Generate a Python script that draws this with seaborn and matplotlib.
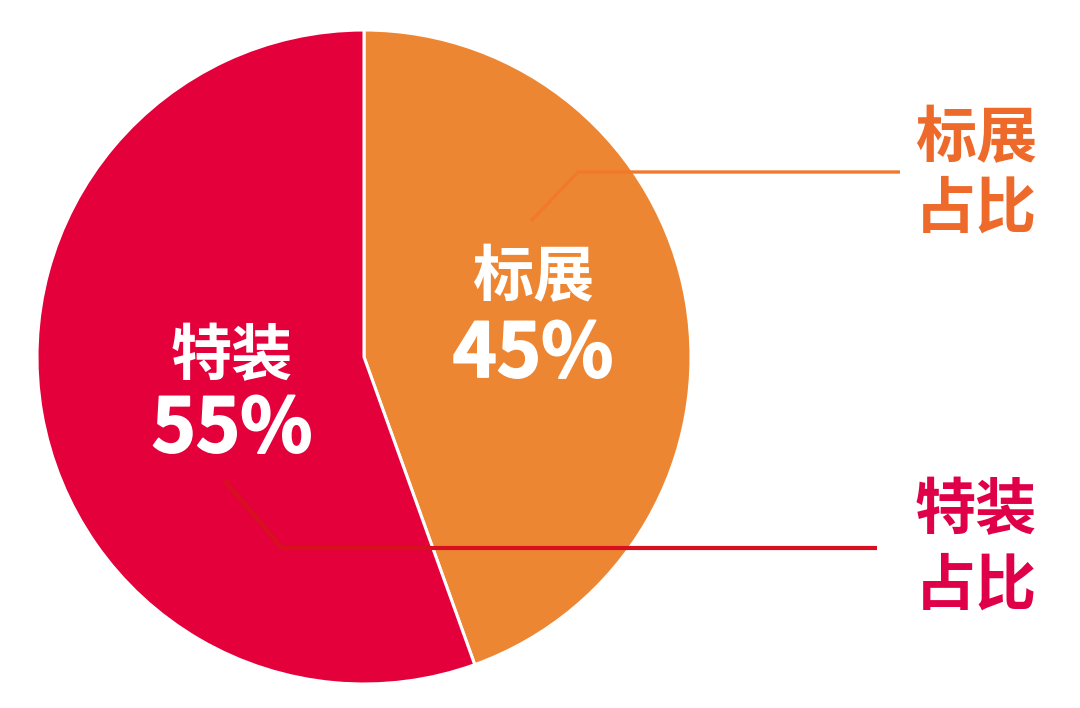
# -*- coding:utf-8 -*-

import matplotlib
matplotlib.use("Agg")
import matplotlib.pyplot as plt
import matplotlib.patheffects as pe
import seaborn as sns

# Datos
categories = ["标展", "特装"]
shares = [44.5, 55.5]          # tamaño medido de las cuñas
pct_labels = ["45%", "55%"]    # texto mostrado
colors = ["#ED8633", "#E4003A"]
label_colors = ["#EE6A2B", "#E0004A"]
line_colors = ["#F07A2A", "#D7101F"]

sns.set_theme(style="white")
plt.rcParams["font.family"] = ["Noto Sans CJK SC", "DejaVu Sans"]

W, H = 1080, 708
fig = plt.figure(figsize=(W / 100, H / 100), dpi=100)
ax = fig.add_axes([0, 0, 1, 1])

cx, cy, r = 364, H - 357, 327
ax.pie(shares, colors=colors, startangle=90, counterclock=False,
       center=(cx, cy), radius=r, frame=True,
       wedgeprops=dict(edgecolor="white", linewidth=2.2))
ax.set_xlim(0, W)
ax.set_ylim(0, H)
ax.set_aspect("equal")
ax.axis("off")

# Etiquetas internas
heavy = [pe.withStroke(linewidth=1.3, foreground="white")]
inner_pos = [(533, 278, 355), (232, 357, 430)]
for name, pct, (x, y1, y2) in zip(categories, pct_labels, inner_pos):
    ax.text(x, H - y1, name, color="white", fontsize=44, fontweight="bold",
            ha="center", va="center")
    ax.text(x, H - y2, pct, color="white", fontsize=54, fontweight="bold",
            ha="center", va="center", path_effects=heavy)

# Líneas guía
leaders = [
    [(531, 221), (578, 172), (900, 172)],
    [(225, 481), (282, 548), (877, 548)],
]
for pts, lc, lw in zip(leaders, line_colors, [2.4, 3.0]):
    xs = [p[0] for p in pts]
    ys = [H - p[1] for p in pts]
    ax.plot(xs, ys, color=lc, linewidth=lw, solid_capstyle="butt", zorder=5)

# Etiquetas externas
outer_pos = [(976, 139, 210), (976, 511, 587)]
for name, lc, (x, y1, y2) in zip(categories, label_colors, outer_pos):
    ax.text(x, H - y1, name, color=lc, fontsize=44, fontweight="bold",
            ha="center", va="center")
    ax.text(x, H - y2, "占比", color=lc, fontsize=44, fontweight="bold",
            ha="center", va="center")

fig.savefig("out.png", dpi=100, facecolor="white")
